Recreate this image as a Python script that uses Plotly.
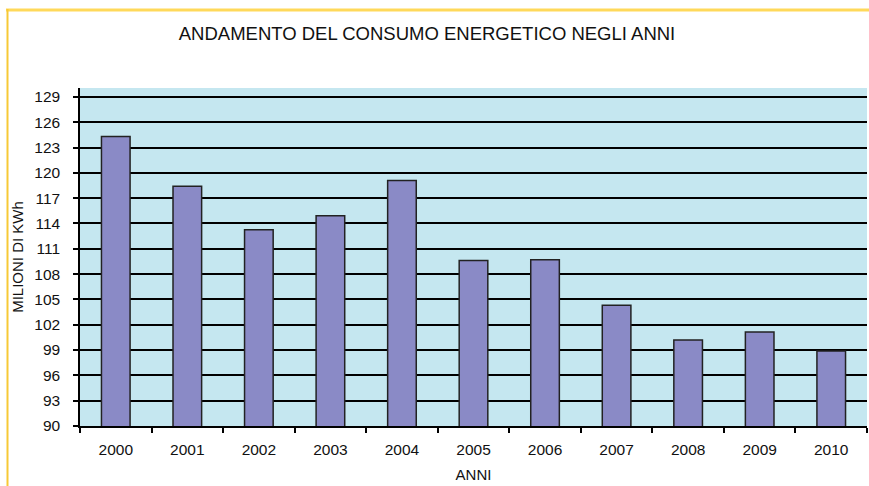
import plotly.graph_objects as go

years = ["2000", "2001", "2002", "2003", "2004", "2005", "2006", "2007", "2008", "2009", "2010"]
consumo = [124.3, 118.4, 113.25, 114.9, 119.1, 109.6, 109.7, 104.3, 100.2, 101.15, 98.9]
y_ticks = list(range(90, 130, 3))

title_text = "ANDAMENTO DEL CONSUMO ENERGETICO NEGLI ANNI"
y_title = "MILIONI DI KWh"
x_title = "ANNI"

W, H = 869, 486
ml, mr, mt, mb = 80, 2, 88, 60
pw, ph = W - ml - mr, H - mt - mb

def px_x(x):
    return (x - ml) / pw

def px_y(y):
    return (H - mb - y) / ph

fig = go.Figure()
fig.add_trace(go.Bar(
    x=years, y=consumo, base=0,
    marker=dict(color="#8A8AC6", line=dict(color="#222222", width=1.5)),
))

fig.add_shape(type="line", xref="paper", yref="paper",
              x0=px_x(6), x1=px_x(W + 2), y0=px_y(10), y1=px_y(10),
              line=dict(color="#FFD95A", width=3))
fig.add_shape(type="line", xref="paper", yref="paper",
              x0=px_x(7.5), x1=px_x(7.5), y0=px_y(9), y1=px_y(H + 2),
              line=dict(color="#F7C936", width=2))

fig.update_layout(
    width=W, height=H,
    margin=dict(l=ml, r=mr, t=mt, b=mb, autoexpand=False),
    paper_bgcolor="white",
    plot_bgcolor="#C5E7F0",
    bargap=0.6,
    showlegend=False,
    font=dict(family="Liberation Sans, Arial, sans-serif", size=15, color="#111111"),
    title=dict(text=title_text, x=427 / W, xanchor="center",
               y=1 - 34 / H, yanchor="middle",
               font=dict(family="Liberation Sans, Arial", size=18.5, color="#111111")),
)

fig.update_xaxes(
    type="category",
    showline=True, linecolor="black", linewidth=1.5,
    ticks="outside", ticklen=5, tickcolor="black", tickwidth=1.5,
    tickson="boundaries",
    showgrid=False,
    tickfont=dict(size=15.5),
    ticklabelstandoff=9,
    title=dict(text=x_title, font=dict(size=15), standoff=12),
)
fig.update_yaxes(
    range=[90, 130.05],
    tickvals=y_ticks,
    showline=True, linecolor="black", linewidth=1.5,
    ticks="outside", ticklen=5, tickcolor="black", tickwidth=1.5,
    showgrid=True, gridcolor="black", gridwidth=1.5,
    zeroline=False,
    tickfont=dict(size=15.5),
    ticklabelstandoff=10,
    title=dict(text=y_title, font=dict(size=15), standoff=7),
)

fig.write_html("out.html", config={"displayModeBar": False},
               post_script="document.body.style.margin='0';document.body.style.overflow='hidden';")
